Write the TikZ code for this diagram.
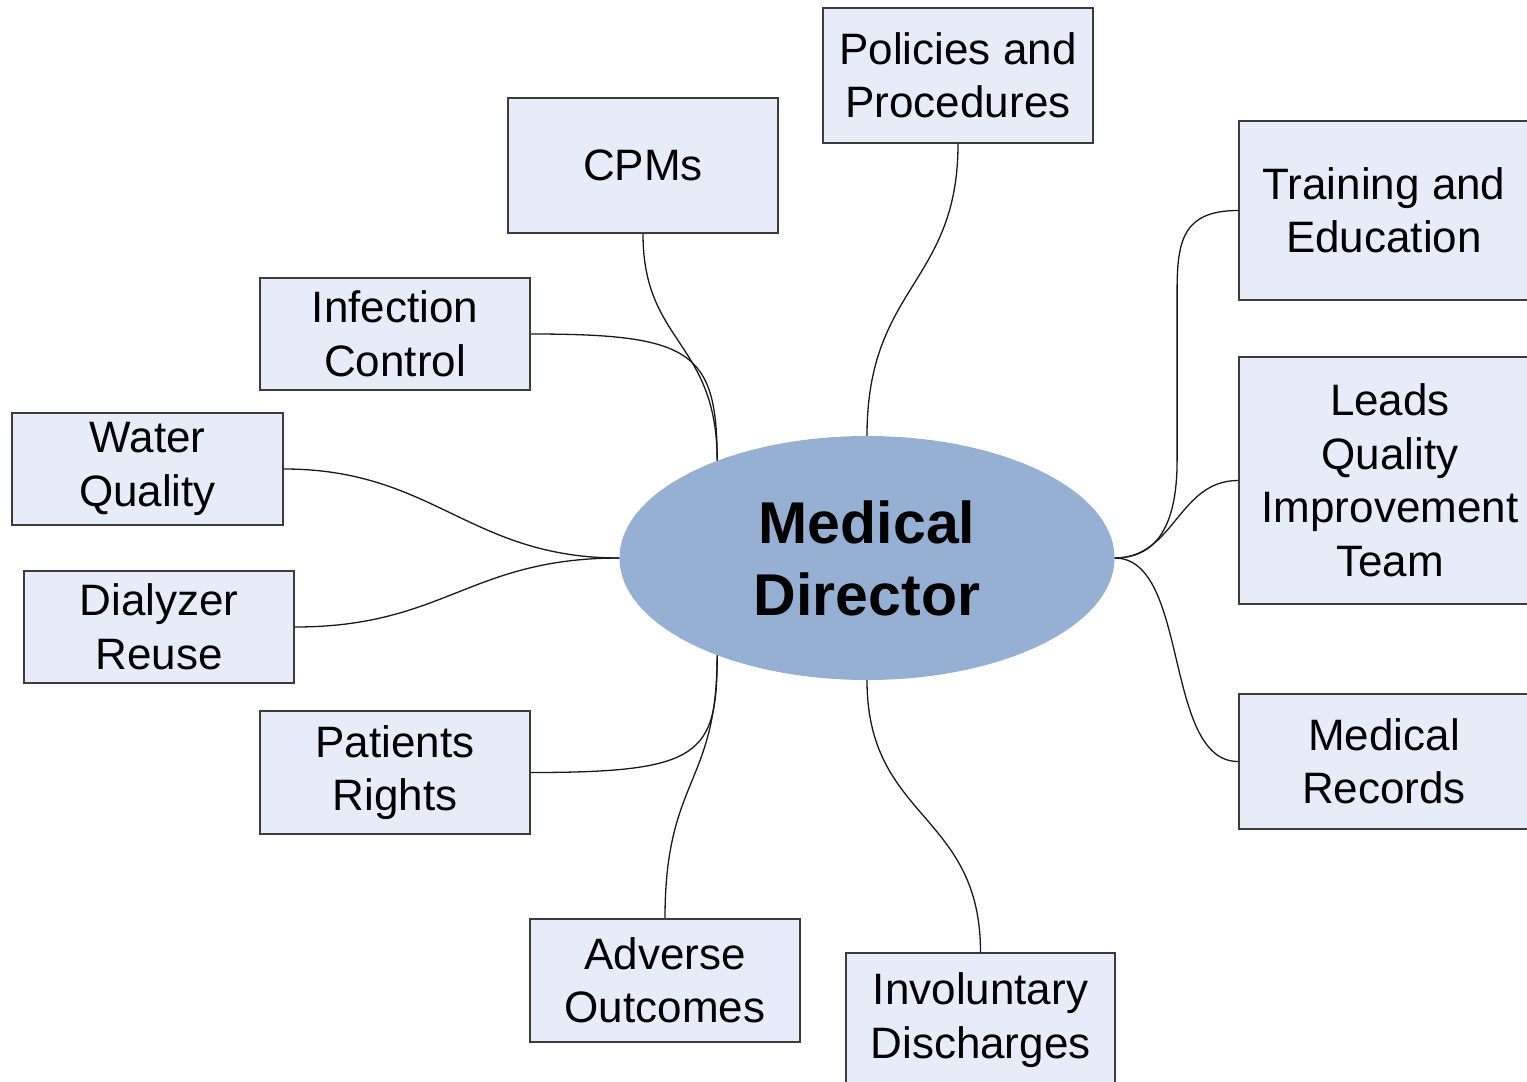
\documentclass[tikz,border=0pt]{standalone}
\usepackage{fontspec}
\setmainfont{Liberation Sans}
\usetikzlibrary{shapes.geometric}
\definecolor{boxfill}{HTML}{E7EDF8}
\definecolor{boxline}{HTML}{3C3C3C}
\definecolor{hubfill}{HTML}{95B0D2}
\begin{document}
\begin{tikzpicture}[x=1pt,y=-1pt,
  topic/.style={draw=boxline, line width=1.8pt, fill=boxfill, align=center,
    inner sep=0pt, font=\fontsize{44}{53.5}\selectfont},
  hub/.style={ellipse, fill=hubfill, inner sep=0pt, align=center,
    minimum width=495pt, minimum height=244pt,
    font=\fontsize{59}{72}\selectfont\bfseries},
  link/.style={line width=1.3pt, draw=black!90}]
\useasboundingbox (0,0) rectangle (1527,1082);
\clip (0,0) rectangle (1527,1082);

% central topic
\node[hub] (md) at (867,558) {Medical\\Director};

% surrounding topics
\node[topic, minimum width=270pt, minimum height=135pt] (pp) at (958,75.5) {Policies and\\Procedures};
\node[topic, minimum width=270pt, minimum height=135pt] (cpm) at (643,165.5) {CPMs};
\node[topic, minimum width=270pt, minimum height=112pt] (ic) at (395,334) {Infection\\Control};
\node[topic, minimum width=271pt, minimum height=112pt] (wq) at (147.5,469) {Water\\Quality};
\node[topic, minimum width=270pt, minimum height=112pt] (dr) at (159,627) {Dialyzer\\Reuse};
\node[topic, minimum width=270pt, minimum height=123pt] (pr) at (395,772.5) {Patients\\Rights};
\node[topic, minimum width=270pt, minimum height=123pt] (ao) at (665,980.5) {Adverse\\Outcomes};
\node[topic, minimum width=269pt, minimum height=134pt] (id) at (980.5,1020) {Involuntary\\Discharges};
\node[topic, minimum width=290pt, minimum height=179pt] (te) at (1384,210.5) {Training and\\Education};
\node[topic, minimum width=302pt, minimum height=247pt] (lq) at (1390,480.5) {Leads\\Quality\\Improvement\\Team};
\node[topic, minimum width=290pt, minimum height=135pt] (mr) at (1384,761.5) {Medical\\Records};

% branches
\draw[link] (pp.south) .. controls +(0,140) and +(0,-150) .. (md.north);
\draw[link] (cpm.south) .. controls +(0,110) and +(0,-120) .. (md.147);
\draw[link] (ic.east) .. controls +(160,0) and +(0,-110) .. (md.147);
\draw[link] (wq.east) .. controls +(150,0) and +(-150,0) .. (md.west);
\draw[link] (dr.east) .. controls +(150,0) and +(-150,0) .. (md.west);
\draw[link] (pr.east) .. controls +(170,0) and +(0,100) .. (md.213);
\draw[link] (ao.north) .. controls +(0,-140) and +(0,130) .. (md.213);
\draw[link] (id.north) .. controls +(0,-140) and +(0,140) .. (md.south);
\draw[link] (te.west) .. controls +(-55,0) and +(0,-50) .. ++(-61,80)
  -- ++(0,170) .. controls +(0,60) and +(45,0) .. (md.east);
\draw[link] (lq.west) .. controls +(-60,0) and +(60,0) .. (md.east);
\draw[link] (mr.west) .. controls +(-75,0) and +(75,0) .. (md.east);
\end{tikzpicture}
\end{document}
